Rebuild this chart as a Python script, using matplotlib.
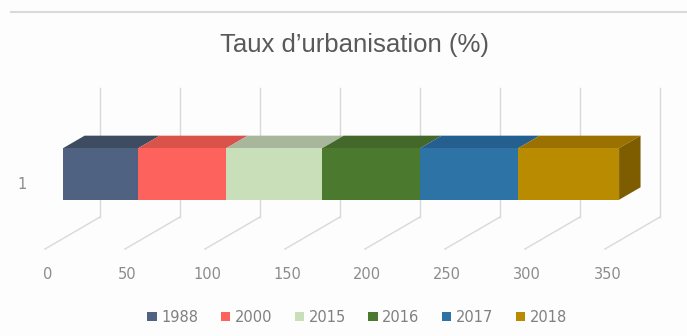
import matplotlib
matplotlib.use("Agg")
import matplotlib.pyplot as plt
from matplotlib.patches import Polygon, Rectangle
import numpy as np

plt.rcParams['font.family'] = ['Liberation Sans', 'DejaVu Sans']

# Data
years = ["1988", "2000", "2015", "2016", "2017", "2018"]
values = [47.0, 55.0, 60.0, 61.2, 61.3, 63.0]
category = ["1"]
x_ticks = [0, 50, 100, 150, 200, 250, 300, 350]

front_colors = ["#4f6282", "#fe625c", "#c9dfba", "#4b7a2f", "#2e73a6", "#b98b00"]
top_colors = ["#3e4c62", "#d9534b", "#a8b79c", "#43682a", "#255f8f", "#9b7200"]
side_color = "#7d5d00"

# Oblique projection: depth d in [0, 1] (0 = back wall, 1 = front of floor)
DX = -34.4      # value units per unit depth
DY = -0.248     # category units per unit depth
D_FRONT, D_BACK = 0.67, 0.28
HALF_H = 0.20


def proj(v, c, d):
    return v + DX * d, c + DY * d


fig = plt.figure(figsize=(6.87, 3.36), dpi=100)
fig.patch.set_facecolor("#fdfdfd")
ax = fig.add_axes([0, 0, 1, 1])
ax.set_xlim(-62.5, 366.9)
ax.set_ylim(-0.422, 2.182)
ax.axis("off")

# Top border line of the chart area
fig.add_artist(plt.Line2D([11 / 687, 1], [1 - 12 / 336, 1 - 12 / 336],
                          transform=fig.transFigure, color="#d9d9d9", lw=1.5))

tick_font = dict(family=["DejaVu Sans"], fontsize=10.5, color="#8c8c8c")
grid_kw = dict(color="#d9d9d9", lw=1.0, zorder=1)
for t in x_ticks:
    # back wall vertical gridline
    ax.plot([t, t], [0.5, 1.5], **grid_kw)
    # floor gridline running towards the viewer
    x0, y0 = proj(t, 0.5, 0)
    x1, y1 = proj(t, 0.5, 1)
    ax.plot([x0, x1], [y0, y1], **grid_kw)
    ax.text(x1 + 1.5, y1 - 0.195, str(t), ha="center", va="center", **tick_font)

# Stacked 3D bar
c = 1.0
lefts = np.concatenate([[0], np.cumsum(values)[:-1]])
fx, fy = proj(0, c, D_FRONT)
for i, (yr, v, L) in enumerate(zip(years, values, lefts)):
    R = L + v
    # front face
    ax.barh(fy, v, left=L + DX * D_FRONT, height=2 * HALF_H,
            color=front_colors[i], zorder=3, label=yr, linewidth=0)
    # top face
    pts = [proj(L, c + HALF_H, D_FRONT), proj(R, c + HALF_H, D_FRONT),
           proj(R, c + HALF_H, D_BACK), proj(L, c + HALF_H, D_BACK)]
    ax.add_patch(Polygon(pts, closed=True, facecolor=top_colors[i],
                         edgecolor="none", zorder=2))
    if i == len(values) - 1:
        side = [proj(R, c - HALF_H, D_FRONT), proj(R, c + HALF_H, D_FRONT),
                proj(R, c + HALF_H, D_BACK), proj(R, c - HALF_H, D_BACK)]
        ax.add_patch(Polygon(side, closed=True, facecolor=side_color,
                             edgecolor="none", zorder=2))

# Category label
ax.text(-48.5, fy - 0.085, category[0], ha="center", va="center", **tick_font)

# Title
fig.text(354 / 687, 1 - 45 / 336, "Taux d\u2019urbanisation (%)", ha="center",
         va="center", fontsize=18.5, color="#595959")

# Legend
handles = [Rectangle((0, 0), 1, 1, facecolor=fc) for fc in front_colors]
leg = fig.legend(handles, years, loc="center", bbox_to_anchor=(357 / 687, 1 - 317 / 336),
                 ncol=6, frameon=False, prop=dict(family=["DejaVu Sans"], size=10.5),
                 labelcolor="#808080",
                 handlelength=0.65, handleheight=0.65, handletextpad=0.3,
                 columnspacing=1.55)

fig.savefig("out.png", dpi=100, facecolor=fig.get_facecolor())
